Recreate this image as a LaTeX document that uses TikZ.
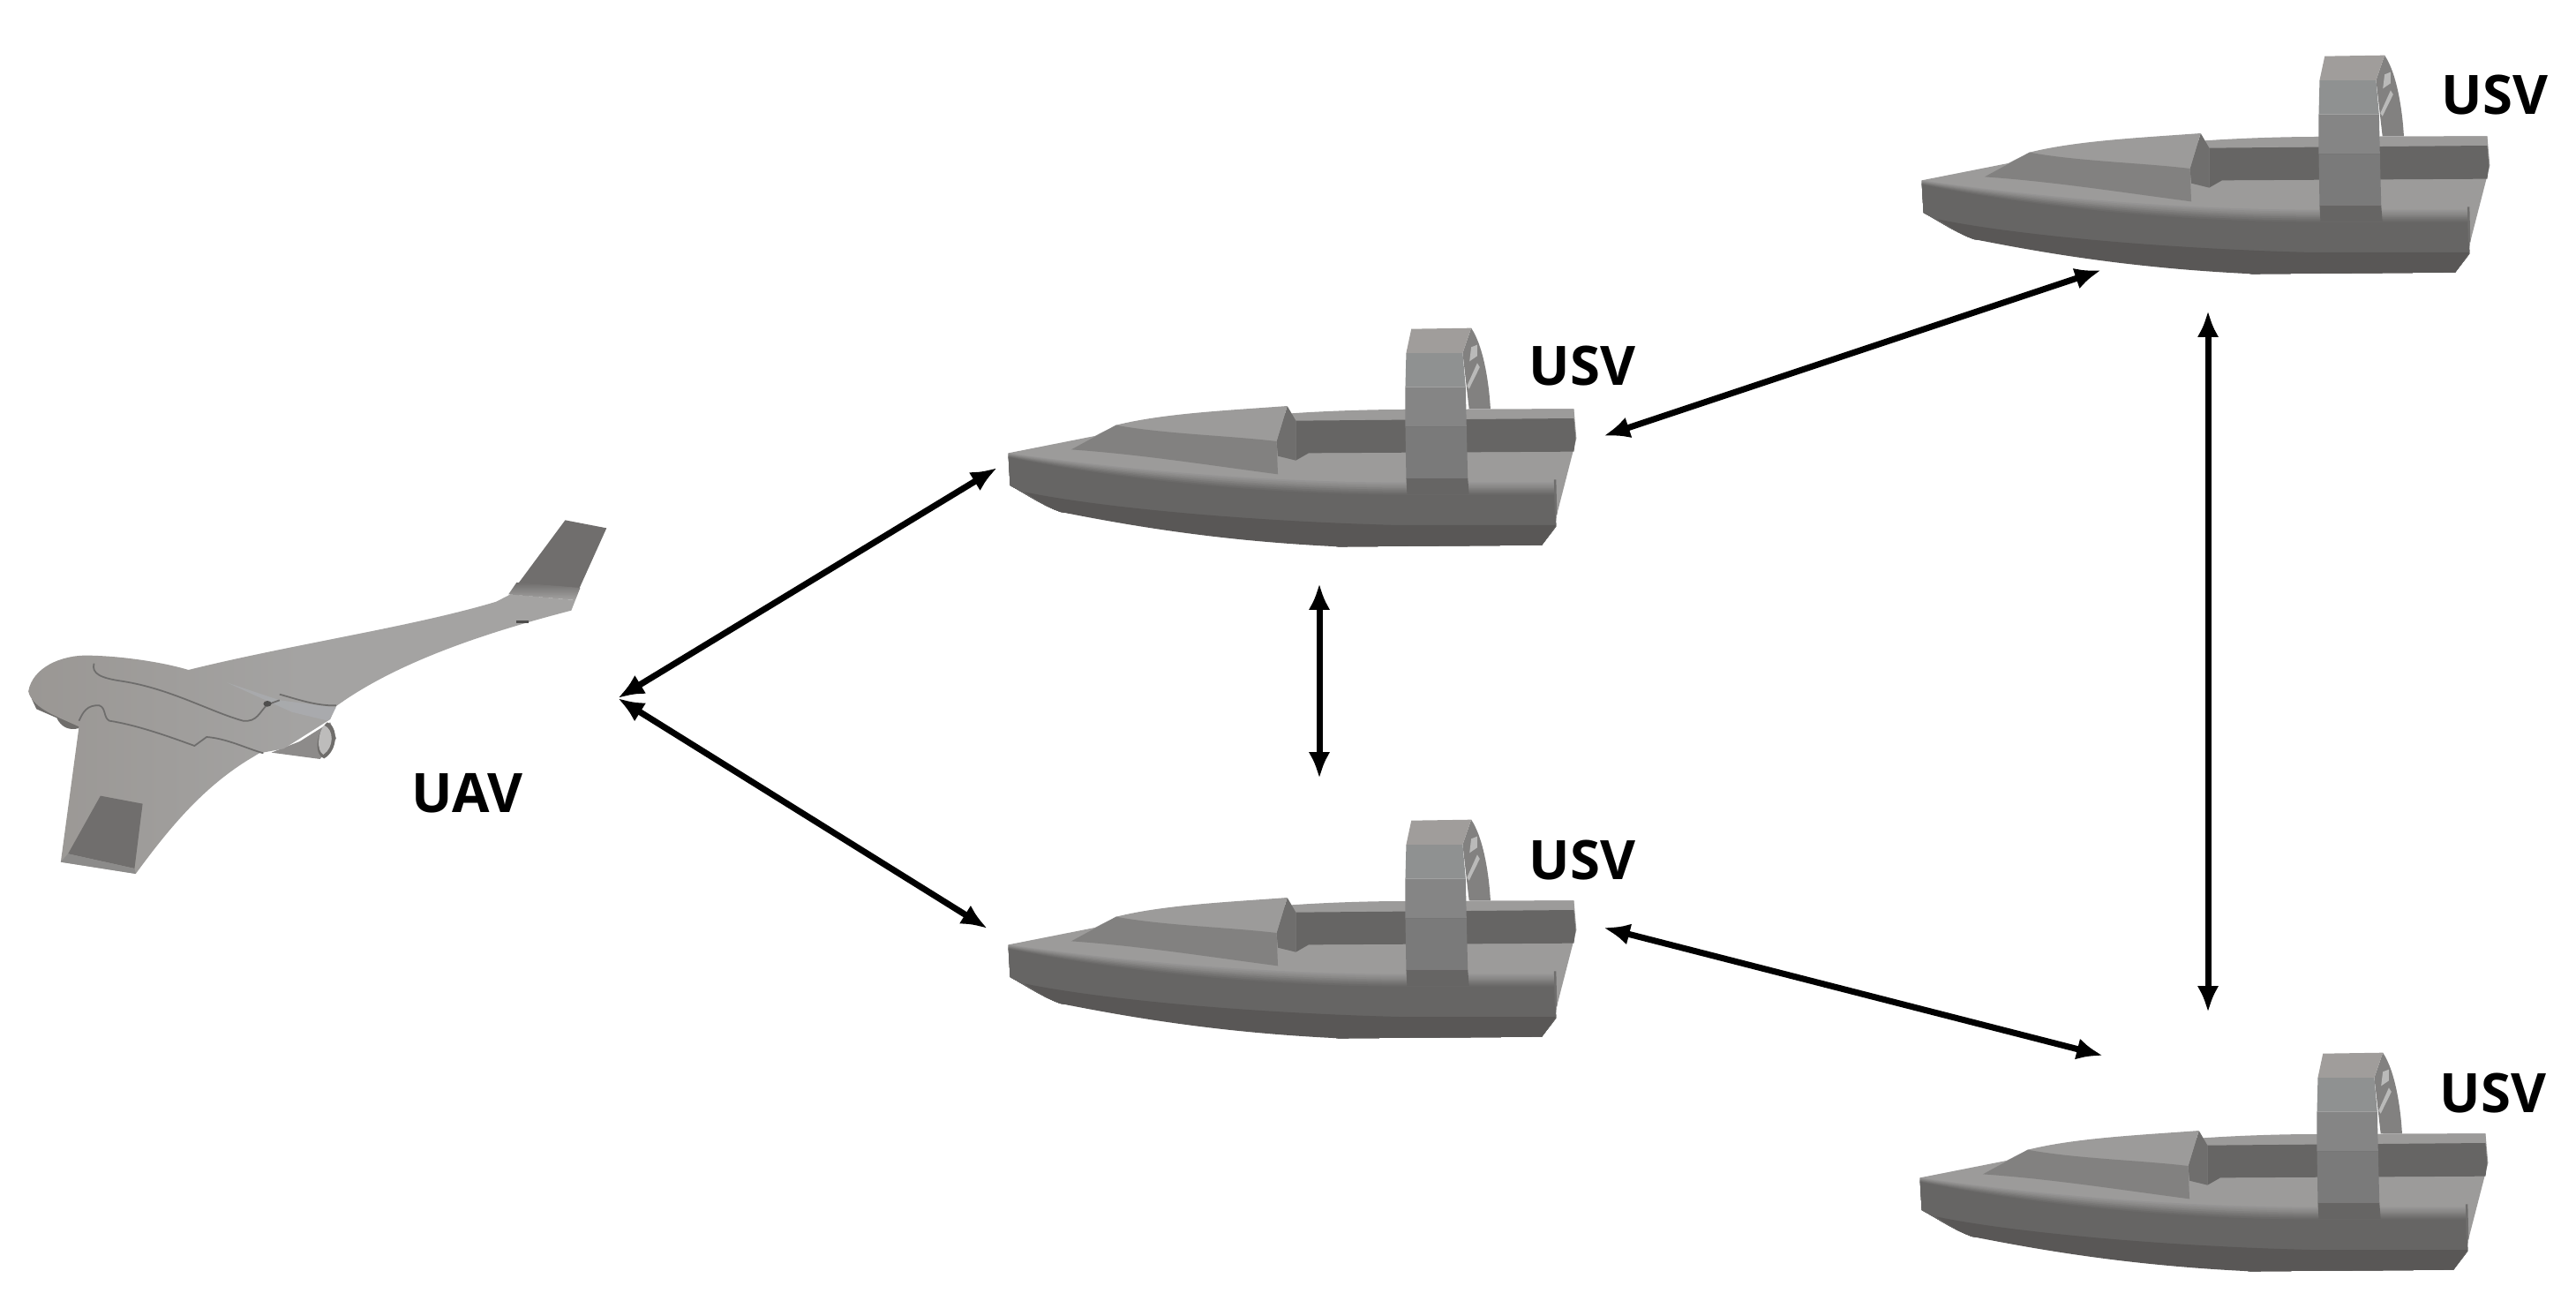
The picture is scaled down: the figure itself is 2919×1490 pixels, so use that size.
\documentclass[tikz,border=0pt]{standalone}
\usepackage{fontspec}
\setmainfont{Open Sans}
\usetikzlibrary{arrows.meta}
\definecolor{bLight}{HTML}{9C9B9A}
\definecolor{bMid}{HTML}{666564}
\definecolor{bLow}{HTML}{595756}
\definecolor{bCab}{HTML}{828180}
\definecolor{bNotch}{HTML}{6F6E6D}
\definecolor{ringA}{HTML}{A09D9B}
\definecolor{ringB}{HTML}{8F9191}
\definecolor{ringC}{HTML}{858585}
\definecolor{ringD}{HTML}{7A7A7A}
\definecolor{aBody}{HTML}{A4A3A2}
\definecolor{aNose}{HTML}{9A9794}
\definecolor{aDark}{HTML}{706E6D}
\definecolor{aLine}{HTML}{6E6D6C}
\definecolor{aUnder}{HTML}{6F6D6B}
\definecolor{aPod}{HTML}{8D8B8A}
\definecolor{aPodIn}{HTML}{BDBCBB}
\definecolor{aStrip}{HTML}{8C8B8A}
\definecolor{aSheen}{HTML}{AEB2B8}
\definecolor{aDot}{HTML}{4F4E4D}
\tikzset{
  link/.style={draw=black,line width=2pt,{Latex[length=8.5pt,width=7pt]}-{Latex[length=8.5pt,width=7pt]}},
  tag/.style={font=\fontsize{17.5}{20}\selectfont\bfseries,text=black,inner sep=0pt},
  seam/.style={draw=aLine,line width=0.5pt},
  boat/.pic={
    % deck and silhouette
    \fill[bLight] (88,490) -- (290,432) -- (340,395) -- (760,355) -- (1010,342) -- (1410,340)
       -- (1416,440) -- (1370,700) -- (1368,735) -- (1335,803) -- (860,808) -- (210,690) -- (92,600) -- cycle;
    % hull soft transition
    \foreach \s/\p in {0/88,6/76,12/64,18/50,24/36,30/22,36/10,42/0}{
      \fill[bLight!\p!bMid] (88,{490+\s/3}) .. controls (300,{535+\s*.8}) and (650,{590+\s}) .. (1020,{590+\s})
         -- (1366,{590+\s}) -- (1368,740) -- (1335,803) -- (860,808) -- (210,690) .. controls (170,670) and (130,630) .. (92,600) -- cycle;
    }
    \draw[bNotch,line width=0.7pt] (1366,580) -- (1368,700);
    \fill[bLow] (125,622) .. controls (300,675) and (650,722) .. (1000,735) -- (1368,735) -- (1335,803) -- (860,808)
       .. controls (600,790) and (400,745) .. (210,690) .. controls (180,675) and (150,645) .. (125,622) -- cycle;
    % rear wall of the well
    \fill[bLight] (750,355) .. controls (850,345) and (950,342) .. (1010,342) -- (1410,340) -- (1410,375) -- (750,382) -- cycle;
    \fill[bMid] (760,380) -- (1410,372) -- (1414,440) -- (1410,485) -- (790,490) -- (760,515) -- cycle;
    % cabin
    \fill[bNotch] (740,330) -- (760,380) -- (760,515) -- (718,500) -- (715,450) -- cycle;
    \fill[bLight] (340,395) .. controls (450,355) and (600,345) .. (740,330) -- (715,450) .. controls (600,430) and (450,425) .. (340,395) -- cycle;
    \fill[bCab] (235,478) -- (340,395) .. controls (450,425) and (600,430) .. (715,450) -- (718,562) .. controls (550,530) and (400,495) .. (235,478) -- cycle;
    % rear of the ring
    \fill[bCab] (1170,65) .. controls (1200,130) and (1212,260) .. (1215,340) -- (1165,340) -- (1150,150) -- cycle;
    \fill[white!45!bCab] (1170,130) -- (1184,122) -- (1184,160) -- (1166,178) -- cycle;
    \fill[white!45!bCab] (1184,184) -- (1190,198) -- (1165,272) -- (1160,262) -- cycle;
    % ring front
    \fill[ringA] (1030,68) -- (1170,65) -- (1150,150) -- (1018,150) -- cycle;
    \fill[ringB] (1018,150) -- (1150,150) -- (1157,265) -- (1016,265) -- cycle;
    \fill[ringC] (1016,265) -- (1157,265) -- (1159,400) -- (1016,400) -- cycle;
    \fill[ringD] (1016,400) -- (1159,400) -- (1162,575) -- (1018,575) -- cycle;
    \fill[bMid] (1018,575) -- (1162,575) -- (1165,630) -- (1020,630) -- cycle;
  }
}
\begin{document}
\begin{tikzpicture}[x=0.01cm,y=-0.01cm]
\useasboundingbox (0,0) rectangle (2919,1490);
\fill[white] (0,0) rectangle (2919,1490);

% boats
\pic (boatA) [xscale=0.4847,yscale=0.3333] at (1100,350) {boat};
\pic (boatB) [xscale=0.4847,yscale=0.3333] at (1100,907) {boat};
\pic (boatC) [xscale=0.4847,yscale=0.3333] at (2135,41) {boat};
\pic (boatD) [xscale=0.4847,yscale=0.3333] at (2133,1171) {boat};

% aircraft
\begin{scope}[shift={(0,560)},xscale=0.4591,yscale=0.3333]
  % parts under the body
  \fill[aUnder] (78,695) .. controls (110,725) and (150,730) .. (200,760) -- (195,795) .. controls (170,805) and (150,790) .. (140,760) -- (90,730) -- cycle;
  \fill[aPod] (670,878) -- (790,900) -- (830,830) -- (815,775) -- (740,840) -- cycle;
  \fill[aUnder] (808,775) .. controls (835,790) and (835,870) .. (800,898) .. controls (770,880) and (785,800) .. (808,775) -- cycle;
  \fill[aPodIn] (800,785) .. controls (825,800) and (825,860) .. (798,885) .. controls (780,870) and (785,810) .. (800,785) -- cycle;
  % body and wing
  \shade[left color=aNose,right color=aBody,middle color=aBody]
    (70,670) .. controls (80,590) and (150,545) .. (220,548) .. controls (300,550) and (400,570) .. (465,597)
    .. controls (720,510) and (1020,450) .. (1225,365) -- (1260,340) -- (1420,360) -- (1410,395)
    .. controls (1200,470) and (980,570) .. (830,720) -- (815,765) -- (700,865) -- (640,880) -- (610,905)
    .. controls (500,1000) and (420,1130) .. (335,1290) -- (150,1250) -- (195,790)
    .. controls (150,760) and (80,730) .. (70,670) -- cycle;
  % upper winglet
  \fill[aDark] (1395,88) -- (1497,115) -- (1420,350) -- (1262,335) -- cycle;
  \shade[top color=aDark,bottom color=aBody] (1275,300) -- (1432,318) -- (1420,360) -- (1255,340) -- cycle;
  % lower winglet
  \fill[aDark] (248,1025) -- (352,1052) -- (332,1272) -- (168,1222) -- cycle;
  \fill[aStrip] (168,1222) -- (332,1272) -- (335,1290) -- (150,1250) -- cycle;
  % sheen
  \fill[aSheen,opacity=.5] (560,640) -- (690,700) -- (830,725) -- (810,770) -- (720,740) -- (640,690) -- cycle;
  % panel seams
  \draw[seam] (232,575) .. controls (225,610) and (250,625) .. (300,635) .. controls (420,660) and (520,740) .. (600,770)
     .. controls (635,775) and (640,740) .. (660,715) -- (690,700);
  \draw[seam] (690,680) .. controls (730,695) and (780,720) .. (830,718);
  \draw[seam] (195,770) .. controls (205,740) and (215,715) .. (245,718) .. controls (262,725) and (255,760) .. (270,770)
     .. controls (340,785) and (420,825) .. (480,855) -- (510,825) .. controls (560,830) and (610,865) .. (650,880);
  \fill[aDot] (660,712) circle [x radius=10,y radius=10];
  \fill[aDot] (1275,428) rectangle (1305,438);
\end{scope}

% labels
\node[tag] (uavLabel) at (529,899) {UAV};
\node[tag] (usvA) at (1793,415) {USV};
\node[tag] (usvB) at (1793,974) {USV};
\node[tag] (usvC) at (2827,108) {USV};
\node[tag] (usvD) at (2825,1238) {USV};

% connector ends
\coordinate (hub) at (700,791);
\coordinate (aLeft) at (1130,530);
\coordinate (bLeft) at (1119,1052);
\coordinate (aBelow) at (1495,661);
\coordinate (bAbove) at (1495,882);
\coordinate (aRight) at (1817,494);
\coordinate (cLeft) at (2381,306);
\coordinate (bRight) at (1817,1051);
\coordinate (dLeft) at (2383,1196);
\coordinate (cBelow) at (2502,352);
\coordinate (dAbove) at (2502,1147);

% connectors
\draw[link] (hub) -- (aLeft);
\draw[link] (hub) -- (bLeft);
\draw[link] (aBelow) -- (bAbove);
\draw[link] (aRight) -- (cLeft);
\draw[link] (bRight) -- (dLeft);
\draw[link] (cBelow) -- (dAbove);
\end{tikzpicture}
\end{document}
